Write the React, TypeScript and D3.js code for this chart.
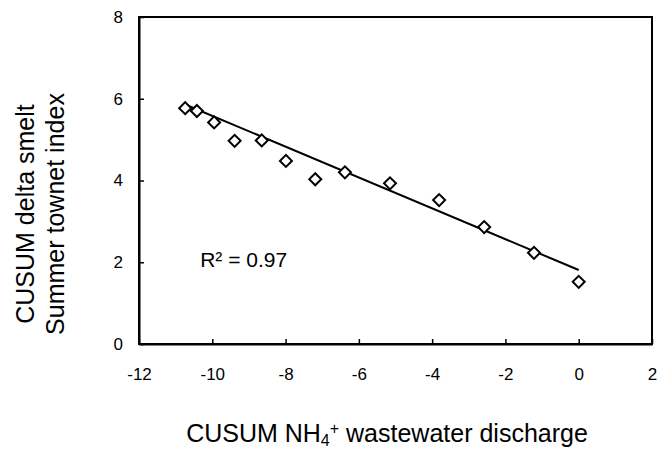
import * as d3 from 'd3'
import React, { useEffect, useRef } from 'react'

const width = 666
const height = 451

// CUSUM NH4+ wastewater discharge
const xValues = [-10.74, -10.42, -9.95, -9.39, -8.65, -7.99, -7.19, -6.38, -5.15, -3.81, -2.58, -1.22, 0.0]
// CUSUM delta smelt summer townet index
const yValues = [5.77, 5.7, 5.42, 4.97, 4.98, 4.48, 4.03, 4.2, 3.93, 3.52, 2.86, 2.23, 1.52]

// fitted trend line end points
const trendX = [-10.74, 0]
const trendY = [5.86, 1.81]

const xTicks = [-12, -10, -8, -6, -4, -2, 0, 2]
const yTicks = [0, 2, 4, 6, 8]
const rSquared = 'R² = 0.97'

const font = '"Liberation Sans", Arial, sans-serif'

const App: React.FC = () => {
  const ref = useRef<SVGSVGElement>(null)

  useEffect(() => {
    document.body.style.margin = '0'
    const margin = { top: 17, right: 14, bottom: 107, left: 139 }
    const w = width - margin.left - margin.right
    const h = height - margin.top - margin.bottom

    const x = d3.scaleLinear().domain([-12, 2]).range([0, w])
    const y = d3.scaleLinear().domain([0, 8]).range([h, 0])

    const root = d3.select(ref.current)
    root.selectAll('*').remove()

    const svg = root.append('g').attr('transform', `translate(${margin.left},${margin.top})`)

    // frame
    svg
      .append('rect')
      .attr('width', w)
      .attr('height', h)
      .attr('fill', 'none')
      .attr('stroke', '#000')
      .attr('stroke-width', 2)

    // x axis
    const xAxis = svg
      .append('g')
      .attr('transform', `translate(0,${h})`)
      .call(
        d3
          .axisBottom(x)
          .tickValues(xTicks)
          .tickFormat((d) => String(d))
          .tickSizeInner(-5)
          .tickSizeOuter(0)
          .tickPadding(24)
      )
    xAxis.select('.domain').attr('stroke-width', 2)
    xAxis.selectAll('line').attr('stroke-width', 1.5)
    xAxis.selectAll('text').attr('font-size', 17).attr('font-family', font).attr('fill', '#000')

    // y axis
    const yAxis = svg
      .append('g')
      .call(
        d3
          .axisLeft(y)
          .tickValues(yTicks)
          .tickFormat((d) => String(d))
          .tickSizeInner(-5)
          .tickSizeOuter(0)
          .tickPadding(16)
      )
    yAxis.select('.domain').attr('stroke-width', 2)
    yAxis.selectAll('line').attr('stroke-width', 1.5)
    yAxis.selectAll('text').attr('font-size', 17).attr('font-family', font).attr('fill', '#000')

    // trend line
    const line = d3
      .line<number>()
      .x((d) => x(d))
      .y((d, i) => y(trendY[i]))
    svg
      .append('path')
      .datum(trendX)
      .attr('d', line)
      .attr('fill', 'none')
      .attr('stroke', '#000')
      .attr('stroke-width', 2)

    // points
    const diamond = d3.symbol().type(d3.symbolSquare).size(72)
    svg
      .selectAll('.pt')
      .data(xValues)
      .enter()
      .append('path')
      .attr('class', 'pt')
      .attr('d', diamond)
      .attr('transform', (d, i) => `translate(${x(d)},${y(yValues[i])}) rotate(45)`)
      .attr('fill', '#fff')
      .attr('stroke', '#000')
      .attr('stroke-width', 2)

    // R squared label
    svg
      .append('text')
      .attr('x', x(-10.33))
      .attr('y', y(2.06))
      .attr('dy', '0.35em')
      .attr('font-size', 21)
      .attr('font-family', font)
      .text(rSquared)

    // x title
    const xt = root
      .append('text')
      .attr('x', 387)
      .attr('y', 442)
      .attr('text-anchor', 'middle')
      .attr('font-size', 25)
      .attr('font-family', font)
    xt.append('tspan').text('CUSUM NH')
    xt.append('tspan').attr('font-size', 16).attr('dy', 4).text('4')
    xt.append('tspan').attr('font-size', 16).attr('dy', -12).text('+')
    xt.append('tspan').attr('dy', 8).text(' wastewater discharge')

    // y title
    const yt = root
      .append('text')
      .attr('transform', 'translate(0,214) rotate(-90)')
      .attr('text-anchor', 'middle')
      .attr('font-size', 25)
      .attr('font-family', font)
    yt.append('tspan').attr('x', 0).attr('y', 34).text('CUSUM delta smelt')
    yt.append('tspan').attr('x', 0).attr('y', 64).text('Summer townet index')
  }, [])

  return <svg ref={ref} width={width} height={height} style={{ display: 'block' }} />
}

export default App
